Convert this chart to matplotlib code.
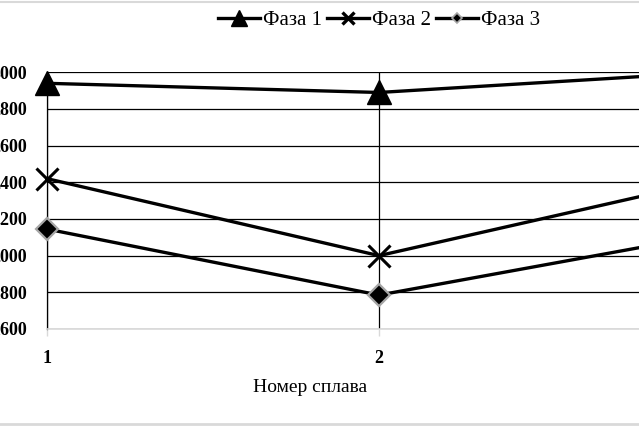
import matplotlib
matplotlib.use("Agg")
import matplotlib.pyplot as plt
from matplotlib.lines import Line2D

categories = [1, 2, 3]
phase1 = [2940, 2890, 3000]
phase2 = [2420, 2000, 2410]
phase3 = [2145, 1785, 2115]
yticks = [1600, 1800, 2000, 2200, 2400, 2600, 2800, 3000]
series_names = ["Фаза 1", "Фаза 2", "Фаза 3"]
xlabel = "Номер сплава"

plt.rcParams['font.family'] = ['Liberation Serif', 'DejaVu Serif']

W, H = 639, 426
fig = plt.figure(figsize=(W / 100, H / 100), dpi=100)
x_left, x_right = 47, 711
y_top, y_bot = 72.3, 329
ax = fig.add_axes([x_left / W, (H - y_bot) / H, (x_right - x_left) / W, (y_bot - y_top) / H])

ax.plot(categories, phase1, color='black', lw=2.4, marker='^', ms=17,
        mfc='black', mec='black', zorder=5, clip_on=False)
ax.plot(categories, phase2, color='black', lw=2.4, marker='x', ms=16,
        mew=2.2, mec='black', zorder=5, clip_on=False)
ax.plot(categories, phase3, color='black', lw=2.4, marker='D', ms=11,
        mfc='black', mec='#a6a6a6', mew=1.6, zorder=6, clip_on=False)

ax.set_xlim(1, 3)
ax.set_ylim(1600, 3000)
ax.set_yticks(yticks)
ax.set_yticklabels([str(v) for v in yticks])
ax.set_xticks(categories)
ax.set_xticklabels([str(c) for c in categories])

ax.grid(True, color='black', lw=0.9, zorder=0)
ax.set_axisbelow(True)
for s in ['top', 'right']:
    ax.spines[s].set_visible(False)
ax.spines['left'].set_color('black')
ax.spines['left'].set_linewidth(0.9)
ax.spines['bottom'].set_color('#d9d9d9')
ax.spines['bottom'].set_linewidth(1.2)
ax.tick_params(axis='y', length=0, pad=14.5, labelsize=13)
ax.tick_params(axis='x', length=5, color='#d9d9d9', width=1, pad=10, labelsize=13)
for lab in ax.get_xticklabels() + ax.get_yticklabels():
    lab.set_fontweight('bold')

fig.text(310 / W, (H - 388) / H, xlabel, ha='center', va='center', fontsize=14)

handles = [
    Line2D([], [], color='black', lw=2.4, marker='^', ms=11, mfc='black', mec='black'),
    Line2D([], [], color='black', lw=2.4, marker='x', ms=8, mew=2.4, mec='black'),
    Line2D([], [], color='black', lw=2.4, marker='D', ms=5, mfc='black', mec='#a6a6a6', mew=1.2),
]
fig.legend(handles, series_names, loc='center', bbox_to_anchor=(379 / W, (H - 20) / H),
           ncol=3, frameon=False, fontsize=15, handlelength=2.0, handletextpad=0.15,
           columnspacing=0.25, borderpad=0, borderaxespad=0)

fig.add_artist(Line2D([0, 1], [1 - 1.5 / H, 1 - 1.5 / H], color='#d9d9d9', lw=1.5, transform=fig.transFigure))
fig.add_artist(Line2D([0, 1], [2.5 / H, 2.5 / H], color='#d9d9d9', lw=2, transform=fig.transFigure))

fig.savefig("out.png", dpi=100)
